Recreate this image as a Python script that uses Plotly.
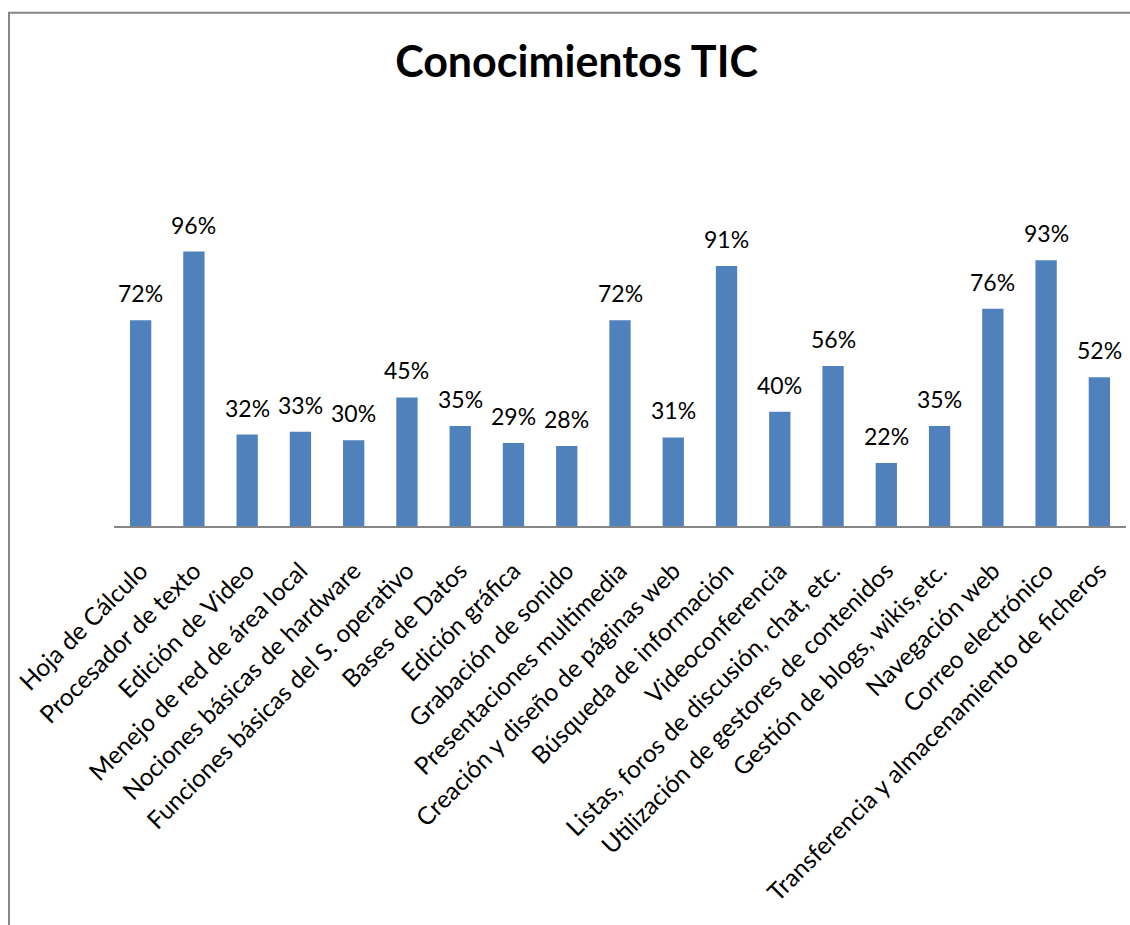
import plotly.graph_objects as go

categories = [
    "Hoja de Cálculo", "Procesador de texto", "Edición de Video",
    "Menejo de red de área local", "Nociones básicas de hardware",
    "Funciones básicas del S. operativo", "Bases de Datos", "Edición gráfica",
    "Grabación de sonido", "Presentaciones multimedia",
    "Creación y diseño de páginas web", "Búsqueda de información",
    "Videoconferencia", "Listas, foros de discusión, chat, etc.",
    "Utilización de gestores de contenidos", "Gestión de blogs, wikis,etc.",
    "Navegación web", "Correo electrónico",
    "Transferencia y almacenamiento de ficheros",
]
values = [0.72, 0.96, 0.32, 0.33, 0.30, 0.45, 0.35, 0.29, 0.28, 0.72,
          0.31, 0.91, 0.40, 0.56, 0.22, 0.35, 0.76, 0.93, 0.52]
labels = [f"{round(v*100)}%" for v in values]

W, H = 1130, 925
left, right = 114, 1126
axis_y, top_y = 526.5, 182.7
ymax = 1.2

fig = go.Figure(go.Bar(
    x=categories, y=values,
    marker=dict(color="#4F81BD", line=dict(width=0)),
    cliponaxis=False, width=0.4, hoverinfo="x+y",
))

for c, v, t in zip(categories, values, labels):
    fig.add_annotation(x=c, y=v, text=t, showarrow=False, xanchor="center",
                       yanchor="bottom", yshift=11,
                       font=dict(family="Lato", size=23, color="black"))

def px2paper_x(px):
    return (px - left) / (right - left)

def px2paper_y(py):
    return (axis_y - py) / (axis_y - top_y)

fig.add_shape(type="rect", xref="paper", yref="paper",
              x0=px2paper_x(9), x1=px2paper_x(1145),
              y0=px2paper_y(940), y1=px2paper_y(12),
              line=dict(color="#868686", width=2), fillcolor="rgba(0,0,0,0)",
              layer="below")

fig.update_layout(
    width=W, height=H,
    margin=dict(l=left, r=W - right, t=top_y, b=H - axis_y, pad=0),
    paper_bgcolor="white", plot_bgcolor="white",
    showlegend=False,
    title=dict(text="<b>Conocimientos TIC</b>", x=576.5 / W, xref="container",
               xanchor="center", y=1 - 62 / H, yref="container", yanchor="middle",
               font=dict(family="Lato", size=43, color="black")),
    xaxis=dict(tickangle=-45, tickfont=dict(family="Lato", size=24.5, color="black"),
               showline=True, linecolor="#868686", linewidth=1.5, showgrid=False,
               ticks="", ticklabelstandoff=19, automargin=False),
    yaxis=dict(range=[0, ymax], visible=False, showgrid=False, zeroline=False),
)

fig.write_html("out.html")
